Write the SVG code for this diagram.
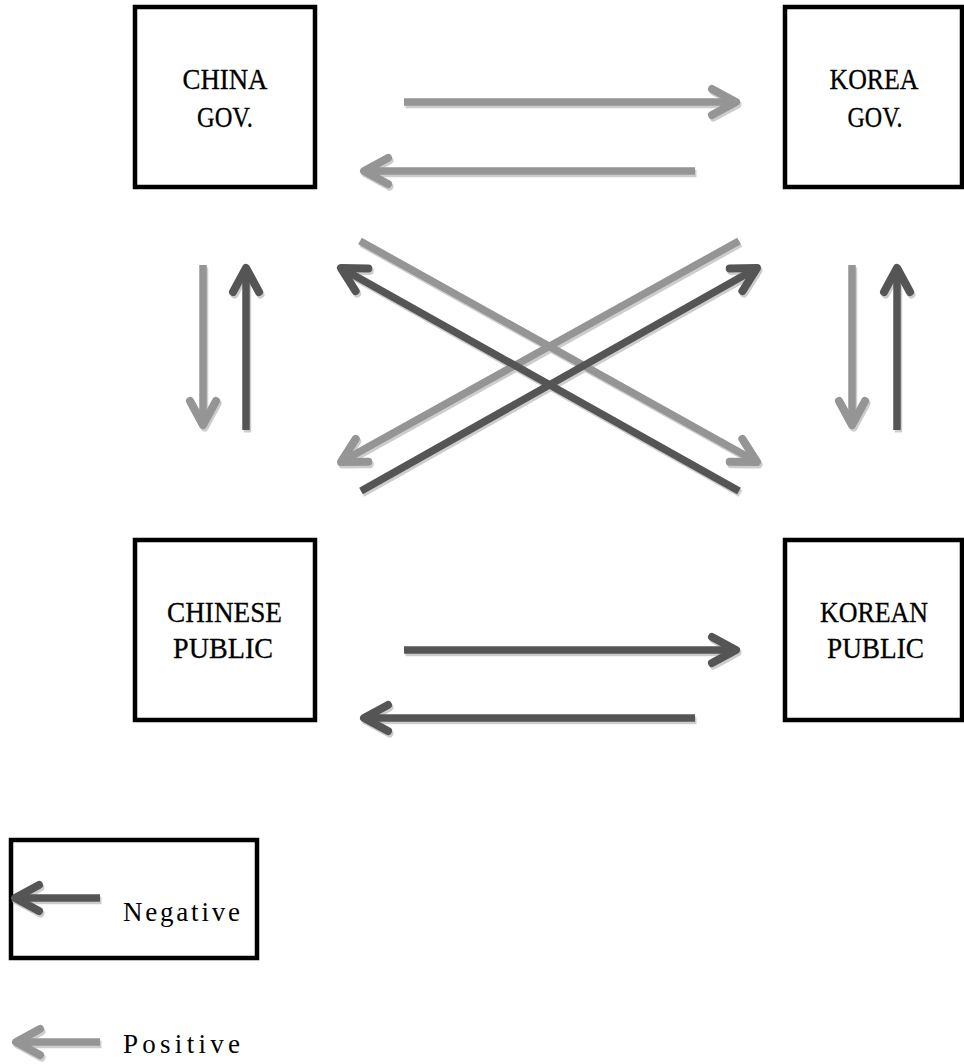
<svg xmlns="http://www.w3.org/2000/svg" width="964" height="1064" viewBox="0 0 964 1064">
<style>
.box{fill:#fff;stroke:#000;stroke-width:4.5}
.lbl{font-family:"Liberation Serif","DejaVu Serif",serif;font-size:30px;fill:#000;text-anchor:middle;stroke:#000;stroke-width:0.3}
.leg{font-family:"Liberation Serif","DejaVu Serif",serif;font-size:27px;fill:#000}
.sh{fill:none;stroke:#cdcdcd;stroke-width:7.5;marker-end:url(#mS)}
.pos{fill:none;stroke:#959595;stroke-width:7.5;marker-end:url(#mP)}
.neg{fill:none;stroke:#555;stroke-width:7.5;marker-end:url(#mN)}
</style>
<defs>
<marker id="mP" markerUnits="userSpaceOnUse" viewBox="-30 -20 40 40" refX="0" refY="0" markerWidth="40" markerHeight="40" orient="auto" overflow="visible"><path d="M-24,-13 L0,0 L-24,13" fill="none" stroke="#959595" stroke-width="8" stroke-linecap="round" stroke-linejoin="round"/></marker>
<marker id="mN" markerUnits="userSpaceOnUse" viewBox="-30 -20 40 40" refX="0" refY="0" markerWidth="40" markerHeight="40" orient="auto" overflow="visible"><path d="M-24,-13 L0,0 L-24,13" fill="none" stroke="#555" stroke-width="8" stroke-linecap="round" stroke-linejoin="round"/></marker>
<marker id="mS" markerUnits="userSpaceOnUse" viewBox="-30 -20 40 40" refX="0" refY="0" markerWidth="40" markerHeight="40" orient="auto" overflow="visible"><path d="M-24,-13 L0,0 L-24,13" fill="none" stroke="#cdcdcd" stroke-width="8" stroke-linecap="round" stroke-linejoin="round"/></marker>
</defs>
<rect width="964" height="1064" fill="#fff"/>
<g id="china-gov">
<rect class="box" x="135" y="7" width="180" height="180"/>
<text class="lbl" x="225" y="89" textLength="85" lengthAdjust="spacingAndGlyphs">CHINA</text>
<text class="lbl" x="225" y="127" textLength="56" lengthAdjust="spacingAndGlyphs">GOV.</text>
</g>
<g id="korea-gov">
<rect class="box" x="785" y="7" width="177" height="180"/>
<text class="lbl" x="874" y="89" textLength="89" lengthAdjust="spacingAndGlyphs">KOREA</text>
<text class="lbl" x="875" y="127" textLength="55" lengthAdjust="spacingAndGlyphs">GOV.</text>
</g>
<g id="chinese-public">
<rect class="box" x="135" y="540" width="180" height="180"/>
<text class="lbl" x="224.5" y="622" textLength="115" lengthAdjust="spacingAndGlyphs">CHINESE</text>
<text class="lbl" x="223" y="658" textLength="100" lengthAdjust="spacingAndGlyphs">PUBLIC</text>
</g>
<g id="korean-public">
<rect class="box" x="785" y="540" width="177" height="180"/>
<text class="lbl" x="874" y="622" textLength="108" lengthAdjust="spacingAndGlyphs">KOREAN</text>
<text class="lbl" x="875.5" y="658" textLength="97" lengthAdjust="spacingAndGlyphs">PUBLIC</text>
</g>
<g id="connectors">
<g transform="translate(1.5,2.5)">
<path class="sh" d="M404,102 L736,102"/>
<path class="sh" d="M695,171 L364,171"/>
<path class="sh" d="M404,650 L736,650"/>
<path class="sh" d="M695,718 L364,718"/>
<path class="sh" d="M203,265 L203,425"/>
<path class="sh" d="M246,430 L246,268"/>
<path class="sh" d="M852,265 L852,425"/>
<path class="sh" d="M897,430 L897,268"/>
<path class="sh" d="M360,241 L757,462"/>
<path class="sh" d="M739,241 L341,462"/>
<path class="sh" d="M739,491 L341,268"/>
<path class="sh" d="M361,491 L757,268"/>
</g>
<path class="pos" d="M404,102 L736,102"/>
<path class="pos" d="M695,171 L364,171"/>
<path class="neg" d="M404,650 L736,650"/>
<path class="neg" d="M695,718 L364,718"/>
<path class="pos" d="M203,265 L203,425"/>
<path class="neg" d="M246,430 L246,268"/>
<path class="pos" d="M852,265 L852,425"/>
<path class="neg" d="M897,430 L897,268"/>
<path class="pos" d="M360,241 L757,462"/>
<path class="pos" d="M739,241 L341,462"/>
<path class="neg" d="M739,491 L341,268"/>
<path class="neg" d="M361,491 L757,268"/>
</g>
<g id="legend">
<rect class="box" x="11" y="840" width="246" height="118"/>
<path class="sh" transform="translate(1.5,2.5)" d="M100,898 L15,898"/>
<path class="neg" d="M100,898 L15,898"/>
<text class="leg" x="123" y="921" textLength="117" lengthAdjust="spacing">Negative</text>
<path class="sh" transform="translate(1.5,2.5)" d="M100,1042 L16,1042"/>
<path class="pos" d="M100,1042 L16,1042"/>
<text class="leg" x="123" y="1053" textLength="117" lengthAdjust="spacing">Positive</text>
</g>
</svg>
